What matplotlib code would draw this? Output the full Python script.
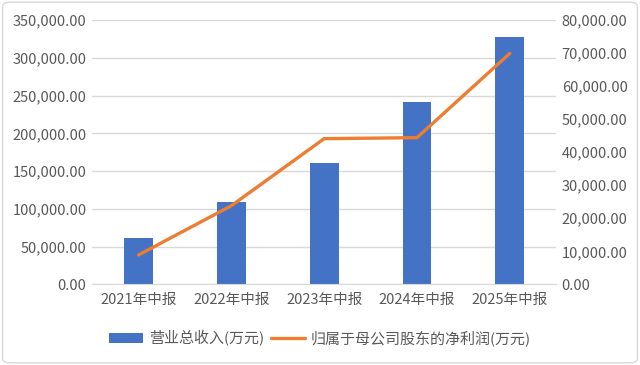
import matplotlib.pyplot as plt
from matplotlib.ticker import FuncFormatter
from matplotlib.patches import FancyBboxPatch

plt.rcParams['font.family'] = ['Noto Sans CJK SC', 'DejaVu Sans']

# data
periods = ['2021年中报', '2022年中报', '2023年中报', '2024年中报', '2025年中报']
revenue = [62000, 109000, 160500, 241000, 327500]
net_profit = [8900, 23800, 44100, 44400, 69900]

fig = plt.figure(figsize=(6.4, 3.65), dpi=100)
ax = fig.add_axes([0.144, 0.221, 0.725, 0.724])
ax2 = ax.twinx()

x = list(range(len(periods)))
bars = ax.bar(x, revenue, width=0.31, color='#4472C4', label='营业总收入(万元)', zorder=2)
line, = ax2.plot(x, net_profit, color='#ED7D31', lw=2.4, label='归属于母公司股东的净利润(万元)',
                 solid_capstyle='round', zorder=3)

fmt = FuncFormatter(lambda v, p: f'{v:,.2f}')
ax.set_ylim(0, 350000)
ax.set_yticks(range(0, 350001, 50000))
ax.yaxis.set_major_formatter(fmt)
ax2.set_ylim(0, 80000)
ax2.set_yticks(range(0, 80001, 10000))
ax2.yaxis.set_major_formatter(fmt)
ax.set_xlim(-0.5, 4.5)
ax.set_xticks(x)
ax.set_xticklabels(periods)

ax.grid(axis='y', color='#D9D9D9', lw=1, zorder=0)
for a in (ax, ax2):
    for s in a.spines.values():
        s.set_visible(False)
    a.tick_params(length=0, labelsize=10.5, colors='#595959')
ax.spines['bottom'].set_visible(True)
ax.spines['bottom'].set_color('#D9D9D9')
ax.tick_params(axis='x', pad=6)
ax.tick_params(axis='y', pad=4)
ax2.tick_params(axis='y', pad=4)

fig.legend([bars, line], ['营业总收入(万元)', '归属于母公司股东的净利润(万元)'],
           loc='center', bbox_to_anchor=(0.5, 0.073), ncol=2, frameon=False,
           fontsize=10.8, labelcolor='#595959', handlelength=2.3, handletextpad=0.4,
           columnspacing=0.4)

border = FancyBboxPatch((0.004, 0.006), 0.992, 0.988, boxstyle='round,pad=0,rounding_size=0.012',
                        transform=fig.transFigure, fill=False, ec='#D9D9D9', lw=1)
fig.patches.append(border)

fig.savefig('out.png', dpi=100)
